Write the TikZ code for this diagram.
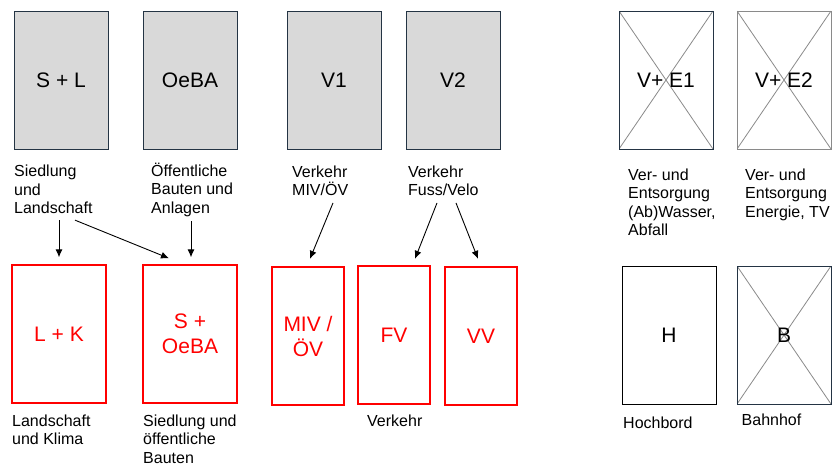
\documentclass[tikz,border=0pt]{standalone}
\usepackage{fontspec}
\setmainfont{Liberation Sans}
\usetikzlibrary{arrows.meta,positioning}
\definecolor{boxgray}{HTML}{D9D9D9}
\definecolor{boxedge}{HTML}{243444}
\definecolor{crossgray}{HTML}{8A8A8A}

\begin{document}
\begin{tikzpicture}[x=1pt, y=-1pt,
			block/.style={rectangle, draw=boxedge, fill=boxgray, line width=0.9pt,
				minimum width=94pt, minimum height=138pt, inner sep=0pt,
				font=\fontsize{21}{25}\selectfont},
			newblock/.style={rectangle, draw=red, line width=1.4pt, text=red,
				minimum width=94pt, minimum height=138pt, inner sep=0pt, align=center,
				font=\fontsize{21}{25}\selectfont},
			crossed/.style={path picture={\draw[crossgray, line width=0.8pt]
				(path picture bounding box.north west) -- (path picture bounding box.south east)
				(path picture bounding box.south west) -- (path picture bounding box.north east);}},
			caption/.style={anchor=north west, align=left, inner sep=0pt,
				font=\fontsize{16}{18.5}\selectfont},
			line/.style={draw, line width=0.9pt, -{Latex[length=8pt, width=7pt]}}]
			
			\useasboundingbox (0,0) rectangle (838,468);
			
			% Existing plans
			\node[block] (SL) at (61,80) {S + L};
			\node[block] (OeBA) at (190,80) {OeBA};
			\node[block] (V1) at (334,80) {V1};
			\node[block] (V2) at (453,80) {V2};
			\node[caption] (cSL) at (14,165) {Siedlung\\und\\Landschaft};
			\node[caption] (cOeBA) at (151,162.6) {Öffentliche\\Bauten und\\Anlagen};
			\node[caption] (cV1) at (292,165.3) {Verkehr\\MIV/ÖV};
			\node[caption] (cV2) at (408,165.3) {Verkehr\\Fuss/Velo};
			
			% Supply and disposal
			\node[block, fill=white, crossed] (VE1) at (666,80) {V+ E1};
			\node[block, fill=white, crossed, draw=crossgray] (VE2) at (784,80) {V+ E2};
			\node[caption] (cVE1) at (628,168.3) {Ver- und\\Entsorgung\\(Ab)Wasser,\\Abfall};
			\node[caption] (cVE2) at (745,168.3) {Ver- und\\Entsorgung\\Energie, TV};
			
			% New plans
			\node[newblock] (LK) at (59,334) {L + K};
			\node[newblock] (SOeBA) at (190,334) {S +\\OeBA};
			\node[newblock, minimum width=72pt] (MIV) at (308,336) {MIV /\\ÖV};
			\node[newblock, minimum width=72pt] (FV) at (394,335) {FV};
			\node[newblock, minimum width=72pt] (VV) at (481,336) {VV};
			\node[caption] (cLK) at (12,414.3) {Landschaft\\und Klima};
			\node[caption] (cSOeBA) at (143,414.3) {Siedlung und\\öffentliche\\Bauten};
			\node[caption] (cVerkehr) at (367,414.3) {Verkehr};
			
			% Hochbord and Bahnhof
			\node[block, fill=white, draw=black] (H) at (669,335) {H};
			\node[block, fill=white, crossed] (B) at (784,335) {B};
			\node[caption] (cH) at (623,416.5) {Hochbord};
			\node[caption] (cB) at (741.5,413.3) {Bahnhof};
			
			% Transitions
			\path[line] ([xshift=45pt, yshift=-6pt]cSL.south west) -- ([yshift=7pt]LK.north);
			\path[line] ([xshift=61pt, yshift=-6pt]cSL.south west) -- ([xshift=-21pt, yshift=6pt]SOeBA.north);
			\path[line] ([xshift=40pt, yshift=-4.5pt]cOeBA.south west) -- ([xshift=1pt, yshift=7pt]SOeBA.north);
			\path[line] ([xshift=41pt, yshift=-7pt]cV1.south west) -- ([xshift=2pt, yshift=7.5pt]MIV.north);
			\path[line] ([xshift=29pt, yshift=-7pt]cV2.south west) -- ([xshift=21pt, yshift=6.5pt]FV.north);
			\path[line] ([xshift=48pt, yshift=-7pt]cV2.south west) -- ([xshift=-3pt, yshift=7.5pt]VV.north);
		\end{tikzpicture}
\end{document}
